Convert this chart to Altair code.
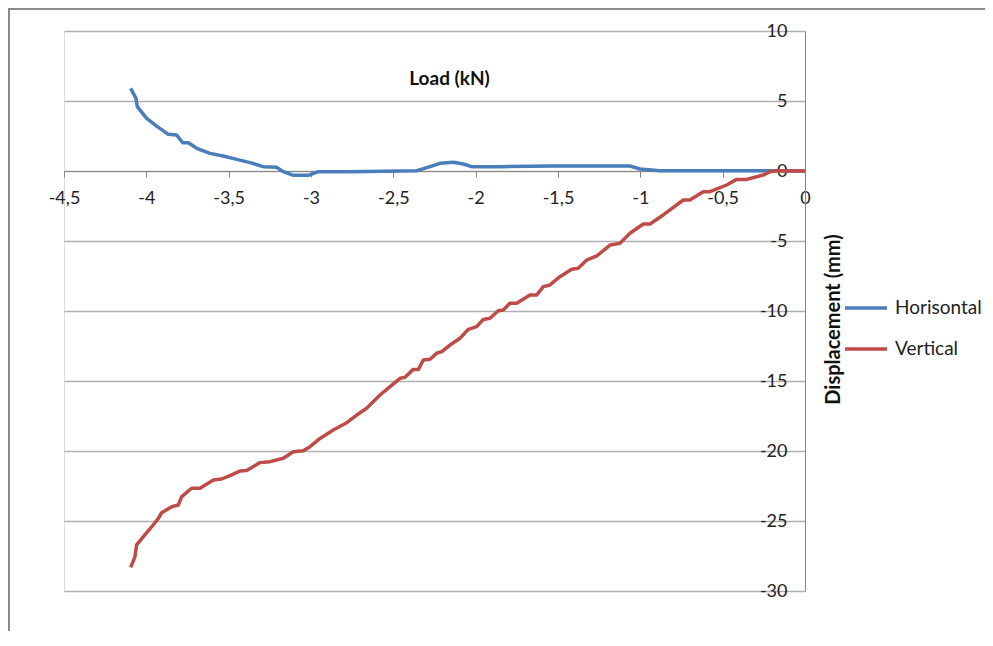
import altair as alt
import pandas as pd

# Horisontal displacement (blue)
h_load = [-4.095, -4.063, -4.055, -3.998, -3.937, -3.867, -3.816, -3.779, -3.745, -3.694,
          -3.613, -3.533, -3.451, -3.370, -3.290, -3.208, -3.168, -3.107, -3.016, -2.955,
          -2.763, -2.358, -2.277, -2.217, -2.136, -2.075, -2.024, -1.852, -1.549, -1.063,
          -1.002, -0.881, -0.638, -0.233, 0.0]
h_disp = [5.9, 5.19, 4.6, 3.76, 3.21, 2.62, 2.57, 2.02, 2.02, 1.62,
          1.26, 1.07, 0.83, 0.60, 0.31, 0.26, -0.05, -0.31, -0.31, -0.05,
          -0.05, 0.02, 0.31, 0.55, 0.62, 0.50, 0.31, 0.31, 0.36, 0.36,
          0.14, 0.02, 0.02, 0.02, 0.0]

# Vertical displacement (red)
v_load = [-4.095, -4.069, -4.059, -4.018, -3.967, -3.927, -3.907, -3.846, -3.806, -3.785,
          -3.725, -3.674, -3.593, -3.542, -3.482, -3.431, -3.391, -3.310, -3.249, -3.168,
          -3.107, -3.047, -3.006, -2.945, -2.865, -2.783, -2.722, -2.662, -2.581, -2.540,
          -2.459, -2.429, -2.379, -2.348, -2.318, -2.277, -2.237, -2.206, -2.156, -2.095,
          -2.045, -1.994, -1.954, -1.913, -1.863, -1.832, -1.792, -1.751, -1.670, -1.630,
          -1.589, -1.549, -1.488, -1.417, -1.377, -1.326, -1.265, -1.184, -1.124, -1.063,
          -0.982, -0.941, -0.861, -0.739, -0.699, -0.618, -0.577, -0.476, -0.415, -0.354,
          -0.254, -0.213, -0.172, 0.0]
v_disp = [-28.31, -27.55, -26.71, -26.12, -25.41, -24.81, -24.41, -23.98, -23.86, -23.26,
          -22.66, -22.66, -22.07, -22.00, -21.71, -21.43, -21.40, -20.83, -20.76, -20.52,
          -20.05, -19.98, -19.69, -19.10, -18.50, -17.98, -17.43, -16.95, -16.00, -15.60,
          -14.81, -14.74, -14.17, -14.17, -13.50, -13.45, -13.02, -12.90, -12.43, -11.95,
          -11.31, -11.12, -10.60, -10.52, -9.98, -9.93, -9.45, -9.45, -8.86, -8.86,
          -8.26, -8.14, -7.55, -7.02, -6.95, -6.36, -6.07, -5.29, -5.17, -4.45,
          -3.79, -3.79, -3.14, -2.07, -2.07, -1.48, -1.48, -1.00, -0.60, -0.60,
          -0.29, -0.05, 0.02, 0.0]

series_names = ["Horisontal", "Vertical"]
series_colors = ["#4A7EBB", "#BE4B48"]
x_ticks = [-4.5, -4, -3.5, -3, -2.5, -2, -1.5, -1, -0.5, 0]
y_ticks = [10, 5, 0, -5, -10, -15, -20, -25, -30]

rows = []
for i, (x, y) in enumerate(zip(h_load, h_disp)):
    rows.append({"series": series_names[0], "load": x, "disp": y, "i": i})
for i, (x, y) in enumerate(zip(v_load, v_disp)):
    rows.append({"series": series_names[1], "load": x, "disp": y, "i": i})
df = pd.DataFrame(rows)

FONT = "Lato"
label_expr = "replace(toString(datum.value), '.', ',')"

lines = alt.Chart(df).mark_line(strokeWidth=3.5, strokeJoin="round", clip=False).encode(
    x=alt.X("load:Q",
            scale=alt.Scale(domain=[-4.5, 0], nice=False, zero=False),
            axis=alt.Axis(orient="bottom", offset=-420, values=x_ticks, labelExpr=label_expr,
                          grid=False, domainColor="#868686", tickColor="#868686",
                          tickSize=6, labelPadding=12, labelFontSize=18, labelFont=FONT,
                          labelColor="#222222", labelFlush=False,
                          title="Load (kN)", titleFont=FONT, titleFontSize=19,
                          titleFontWeight="bold", titleColor="#111111",
                          titleX=385, titleY=-93, titleAlign="center", titleBaseline="middle")),
    y=alt.Y("disp:Q",
            scale=alt.Scale(domain=[-30, 10], nice=False, zero=False),
            axis=alt.Axis(orient="left", offset=-741, values=y_ticks, labelExpr=label_expr,
                          grid=True, gridColor="#b0b0b0", gridWidth=1.3,
                          domainColor="#868686", ticks=False, labelPadding=18,
                          labelFontSize=18, labelFont=FONT, labelColor="#222222",
                          labelFlush=False, labelBaseline="middle",
                          title="Displacement (mm)", titleFont=FONT, titleFontSize=20,
                          titleFontWeight="bold", titleColor="#111111",
                          titleAngle=270, titleX=28, titleY=288,
                          titleAlign="center", titleBaseline="middle")),
    color=alt.Color("series:N",
                    scale=alt.Scale(domain=series_names, range=series_colors),
                    legend=alt.Legend(orient="none", legendX=779, legendY=254, title=None,
                                      symbolType="stroke", symbolSize=1764,
                                      symbolStrokeWidth=3.5, labelFont=FONT,
                                      labelFontSize=19, labelColor="#222222",
                                      rowPadding=8, labelOffset=6)),
    order="i:Q",
)

frame_left = alt.Chart(df).mark_rule(color="#8a8a8a", strokeWidth=1.5, clip=False).encode(
    x=alt.value(-55.5), y=alt.value(-22.5), y2=alt.value(640))
frame_top = alt.Chart(df).mark_rule(color="#8a8a8a", strokeWidth=1.5, clip=False).encode(
    x=alt.value(-55.5), x2=alt.value(960), y=alt.value(-22.5))

chart = alt.layer(frame_left, frame_top, lines).properties(
    width=741, height=560,
    padding={"left": 56, "top": 23, "right": 180, "bottom": 40},
    autosize=alt.AutoSizeParams(type="none"),
).configure_view(stroke=None).configure(background="white")

chart.save("out.html", embed_options={"renderer": "svg", "actions": False})
